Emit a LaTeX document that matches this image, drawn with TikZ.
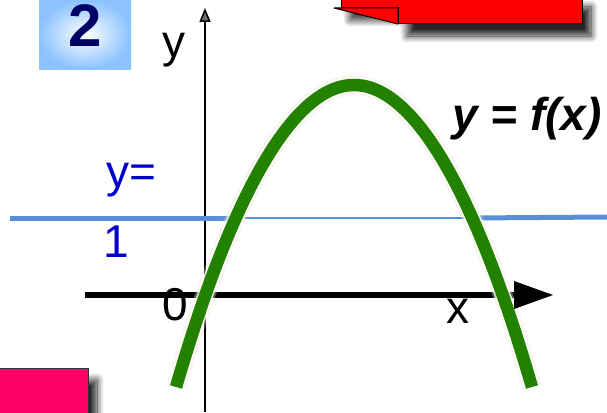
\documentclass[tikz,border=0pt]{standalone}
\usepackage{fontspec}
\setmainfont{Liberation Sans}
\usetikzlibrary{arrows.meta,shadows.blur}
\definecolor{boxblue}{RGB}{140,195,255}
\definecolor{numnavy}{RGB}{0,0,102}
\definecolor{redbox}{RGB}{255,0,0}
\definecolor{pinkbox}{RGB}{255,0,102}
\definecolor{liney}{RGB}{88,143,214}
\definecolor{labelblue}{RGB}{0,0,204}
\definecolor{curvegreen}{RGB}{34,130,0}
\definecolor{glowcream}{RGB}{236,230,205}
\tikzset{
  axislabel/.style={inner sep=0pt, anchor=base, font=\fontsize{46}{50}\selectfont},
  bluelabel/.style={axislabel, text=labelblue},
  boxshadow/.style={blur shadow={shadow xshift=9pt, shadow yshift=-12pt, shadow blur steps=14, shadow blur radius=7pt, shadow opacity=85}},
}
\begin{document}
\begin{tikzpicture}[x=1pt,y=-1pt]
\useasboundingbox (0,0) rectangle (607,412);
% number box
\node[name=numbox, minimum width=92pt, minimum height=69pt, inner sep=0pt,
      shading=radial, inner color=white, outer color=boxblue] at (85,34.5) {};
\node[name=num, inner sep=0pt, anchor=base, text=numnavy,
      font=\fontsize{60}{64}\selectfont\bfseries] at (85,47) {2};
% red box (top right) with folded corner
\path[fill=redbox, draw=black, line width=1pt, boxshadow]
  (341,-5) -- (341,8) -- (398,8) -- (398,24) -- (582,24) -- (582,-5) -- cycle;
\path[fill=redbox, draw=black, line width=1pt, line join=round]
  (334,8) -- (398,8) -- (398,24) -- cycle;
% pink box (bottom left)
\path[fill=pinkbox, draw=black!80, line width=1pt, boxshadow]
  (-3,368) rectangle (88,416);
% axes
\coordinate (ybot) at (205,412);
\coordinate (ytop) at (205,8);
\coordinate (xleft) at (85,295);
\coordinate (xtipbase) at (514,295);
\coordinate (xright) at (553,295);
\draw[line width=1.5pt, -{Triangle[length=14pt,width=11pt]}] (ybot) -- (ytop);
\draw[line width=5.5pt] (xleft) -- (xtipbase);
% line y=1
\coordinate (bl) at (10,218);
\coordinate (bm1) at (236,218);
\coordinate (bm2) at (472,218);
\coordinate (br) at (607,217);
\draw[liney, line width=5pt] (bl) -- (bm1);
\draw[liney, line width=2pt] (bm1) -- (bm2);
\draw[liney, line width=5pt] (bm2) -- (br);
% parabola
\coordinate (pl) at (176,387);
\coordinate (pv) at (354,85);
\coordinate (pr) at (532,387);
\draw[glowcream, opacity=0.35, line width=20pt] (pl) parabola bend (pv) (pr);
\draw[white, opacity=0.8, line width=16pt] (pl) parabola bend (pv) (pr);
\draw[curvegreen, line width=12.5pt] (pl) parabola bend (pv) (pr);
% x-axis arrowhead on top
\fill[black] (xtipbase) ++(0,-14) -- (xright) -- ++(-39,14) -- cycle;
% labels
\node[axislabel, name=ylab] at (174,58) {y};
\node[axislabel, name=zerolab] at (175,320) {0};
\node[axislabel, name=xlab] at (458,323) {x};
\node[bluelabel, name=yeq] at (131,187) {y=};
\node[bluelabel, name=one] at (116,257) {1};
\node[inner sep=0pt, anchor=base west, name=fx,
      font=\fontsize{46}{50}\selectfont\bfseries\itshape] at (452,130) {y = f(x)};
\end{tikzpicture}
\end{document}
